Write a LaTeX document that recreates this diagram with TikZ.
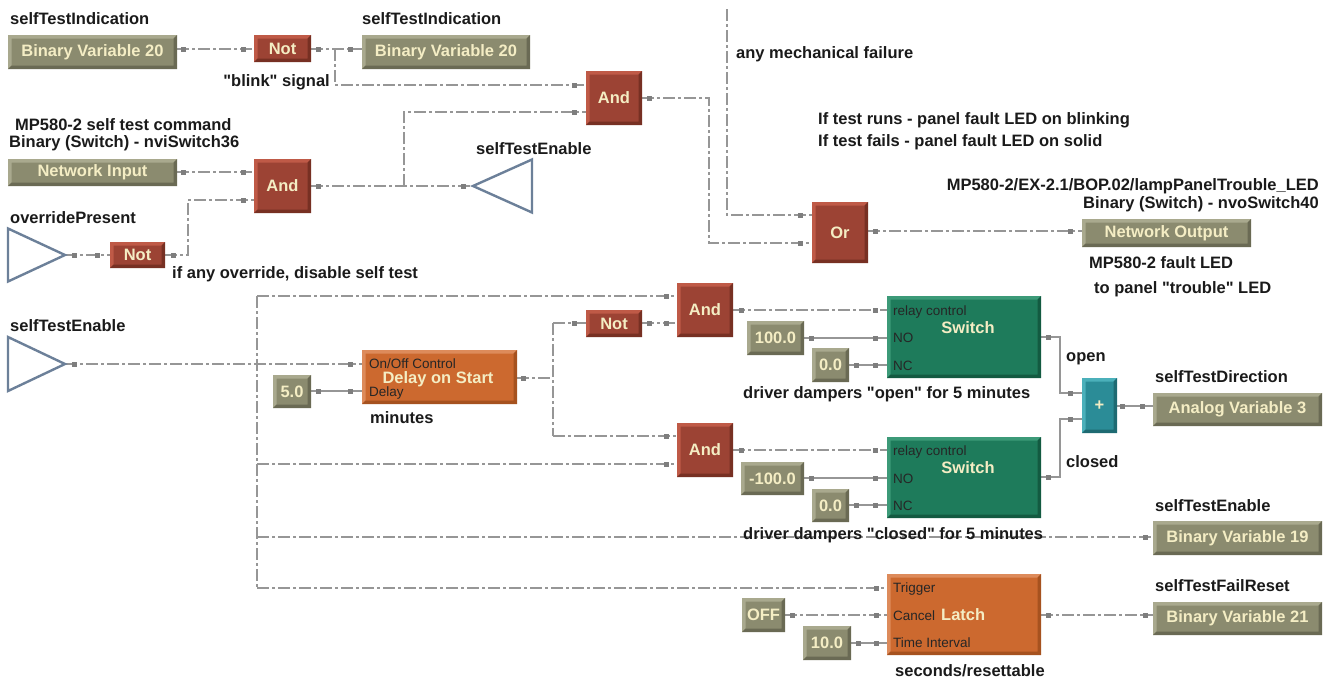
\documentclass[tikz,border=0pt]{standalone}
\usepackage{fontspec}
\setmainfont{Liberation Sans}
\usetikzlibrary{calc}
\pgfdeclarelayer{bg}
\pgfsetlayers{bg,main}
\definecolor{lgray}{HTML}{969696}
\definecolor{pgray}{HTML}{7E7E7E}
\definecolor{olv}{HTML}{8B8B6F}
\definecolor{olvL}{HTML}{A9A98E}
\definecolor{olvD}{HTML}{6A6A54}
\definecolor{rd}{HTML}{9C4334}
\definecolor{rdL}{HTML}{BF5A47}
\definecolor{rdD}{HTML}{773023}
\definecolor{org}{HTML}{CC692F}
\definecolor{orgL}{HTML}{DD8B5B}
\definecolor{orgD}{HTML}{A6521F}
\definecolor{grn}{HTML}{1E7B5B}
\definecolor{grnL}{HTML}{3C9A78}
\definecolor{grnD}{HTML}{135A41}
\definecolor{tl}{HTML}{2B8C97}
\definecolor{tlL}{HTML}{4BB0BA}
\definecolor{tlD}{HTML}{1E6A72}
\definecolor{cream}{HTML}{F4EDC4}
\definecolor{trc}{HTML}{6C8099}
\definecolor{ink}{HTML}{1A1A1A}
\newcommand\labf{\bfseries\fontsize{16.5}{19}\selectfont}
\newcommand\smf{\fontsize{13.5}{15}\selectfont}
\newcommand\dq{\textquotedbl}
\tikzset{
  bev/.style n args={3}{rectangle, inner sep=0pt, fill=#1, text=cream, font=\labf,
    path picture={
      \fill[#2] (path picture bounding box.north west) -- (path picture bounding box.north east)
        -- ([shift={(-3.5pt,-3.5pt)}]path picture bounding box.north east)
        -- ([shift={(3.5pt,-3.5pt)}]path picture bounding box.north west)
        -- ([shift={(3.5pt,3.5pt)}]path picture bounding box.south west)
        -- (path picture bounding box.south west) -- cycle;
      \fill[#3] (path picture bounding box.south east) -- (path picture bounding box.north east)
        -- ([shift={(-3.5pt,-3.5pt)}]path picture bounding box.north east)
        -- ([shift={(-3.5pt,3.5pt)}]path picture bounding box.south east)
        -- ([shift={(3.5pt,3.5pt)}]path picture bounding box.south west)
        -- (path picture bounding box.south west) -- cycle;
    }},
  ob/.style={bev={olv}{olvL}{olvD}},
  rb/.style={bev={rd}{rdL}{rdD}},
  orb/.style={bev={org}{orgL}{orgD}},
  gb/.style={bev={grn}{grnL}{grnD}},
  tb/.style={bev={tl}{tlL}{tlD}},
  sz/.style 2 args={minimum width=#1pt, minimum height=#2pt},
  port/.style={rectangle, fill=pgray, minimum size=5pt, inner sep=0pt},
  dd/.style={draw=lgray, line width=1.5pt, dash pattern=on 12pt off 3pt on 3pt off 3pt},
  sl/.style={draw=lgray, line width=1.5pt},
  txt/.style={inner sep=0pt, anchor=base west, font=\labf, text=ink},
  sm/.style={inner sep=0pt, anchor=base west, font=\smf, text=black!85},
  ttl/.style={inner sep=0pt, anchor=base, font=\labf, text=cream},
  tri/.style={draw=trc, line width=2.4pt, line join=miter, fill=white},
}
\begin{document}
\begin{tikzpicture}[x=1pt,y=-1pt]
\useasboundingbox (0,0) rectangle (1328,681);
\begin{pgfonlayer}{bg}
\fill[white] (0,0) rectangle (1328,681);
\end{pgfonlayer}

% ---------- blocks ----------
\node[ob, sz={169}{34}] (bv20a) at (92.5,52) {Binary Variable 20};
\node[rb, sz={57}{27}] (not1) at (282.5,48.5) {Not};
\node[ob, sz={168}{34}] (bv20b) at (446,52) {Binary Variable 20};
\node[rb, sz={56}{54}] (and1) at (614,98) {And};
\node[rb, sz={56}{61}] (or1) at (840,232.5) {Or};
\node[ob, sz={169}{28}] (nout) at (1166.5,233) {Network Output};
\node[ob, sz={169}{27}] (nin) at (92.5,172.5) {Network Input};
\node[rb, sz={57}{54}] (and2) at (282.5,186) {And};
\node[rb, sz={55}{26}] (not2) at (137.5,255) {Not};
\node[orb, sz={155}{54}] (dly) at (439.5,377) {};
\node[ob, sz={38}{33}] (c5) at (292,391.5) {5.0};
\node[rb, sz={56}{27}] (not3) at (614,323.5) {Not};
\node[rb, sz={56}{54}] (and3) at (705,310) {And};
\node[rb, sz={56}{54}] (and4) at (705,450) {And};
\node[gb, sz={154}{82}] (sw1) at (964,337) {};
\node[ob, sz={57}{34}] (c100) at (775.5,338) {100.0};
\node[ob, sz={37}{34}] (c0a) at (830.5,365) {0.0};
\node[tb, sz={35}{55}] (plus) at (1099.5,405.5) {+};
\node[ob, sz={169}{33}] (av3) at (1237.5,409.5) {Analog Variable 3};
\node[gb, sz={154}{81}] (sw2) at (964,477.5) {};
\node[ob, sz={63}{33}] (cm100) at (772.5,478.5) {-100.0};
\node[ob, sz={37}{33}] (c0b) at (830.5,505.5) {0.0};
\node[ob, sz={169}{34}] (bv19) at (1237.5,538) {Binary Variable 19};
\node[orb, sz={154}{81}] (latch) at (964,614.5) {};
\node[ob, sz={43}{34}] (off) at (763.5,615) {OFF};
\node[ob, sz={48}{34}] (c10) at (827,643) {10.0};
\node[ob, sz={169}{33}] (bv21) at (1237.5,618.5) {Binary Variable 21};

% triangles (tip coordinates)
\coordinate (ovr) at (65,255);
\draw[tri] (ovr) -- ++(-57,-26.5) -- ++(0,53) -- cycle;
\coordinate (ste1) at (473,186);
\draw[tri] (ste1) -- ++(59,-26.5) -- ++(0,53) -- cycle;
\coordinate (ste0) at (65,364);
\draw[tri] (ste0) -- ++(-57,-27) -- ++(0,54) -- cycle;

% inner labels
\node[sm] (dlyon) at (369,368.5) {On/Off Control};
\node[sm] (dlyd) at (369,396) {Delay};
\node[ttl] (dlyt) at (438,383) {Delay on Start};
\node[sm] (s1rc) at (893,315) {relay control};
\node[ttl] (s1t) at (968,333) {Switch};
\node[sm] (s1no) at (893,342.5) {NO};
\node[sm] (s1nc) at (893,370) {NC};
\node[sm] (s2rc) at (893,455.5) {relay control};
\node[ttl] (s2t) at (968,473.5) {Switch};
\node[sm] (s2no) at (893,483) {NO};
\node[sm] (s2nc) at (893,510.5) {NC};
\node[sm] (ltr) at (893,592.5) {Trigger};
\node[sm] (lca) at (893,620) {Cancel};
\node[ttl, anchor=base west] (ltt) at (941,620) {Latch};
\node[sm] (lti) at (893,647.5) {Time Interval};

% ---------- ports ----------
\foreach \n/\x/\y in {pa1/183/49, pa2/243/49, pa3/318/49, pa4/350/49, pa5/574/85, pa6/649/98,
  pa7/800/243, pa8/800/215, pa9/875/231, pa10/1070/231,
  pb1/183/172, pb2/243/172, pb3/243/200, pb4/173/255, pb5/74/255, pb6/97/255, pb7/318/186,
  pb8/463/186, pb9/574/112,
  pc1/74/364, pc2/350/364, pc3/318/391, pc4/350/391, pc5/523/378, pc6/574/323, pc7/649/323,
  pc8/666/323, pc9/666/296, pc10/741/310, pc11/875/310, pc12/811/338, pc13/875/338,
  pc14/856/365, pc15/875/365, pc16/666/436, pc17/666/464, pc18/741/450, pc19/875/450,
  pc20/811/478, pc21/875/478, pc22/856/505, pc23/875/505,
  pd1/1048/337, pd2/1070/393, pd3/1048/477, pd4/1070/419, pd5/1122/406, pd6/1142/406,
  pd7/1145/537, pd8/876/588, pd9/792/615, pd10/876/615, pd11/858/643, pd12/876/643,
  pd13/1048/615, pd14/1145/615}
  {\node[port] (\n) at (\x,\y) {};}

% junction coordinates
\coordinate (j1) at (335,49);
\coordinate (j2) at (404,186);
\coordinate (k1) at (709,98);
\coordinate (k2) at (709,243);
\coordinate (m0) at (727,9);
\coordinate (k3) at (188,255);
\coordinate (k4) at (188,200);
\coordinate (t1) at (257,296);
\coordinate (t2) at (257,588);
\coordinate (t3) at (257,464);
\coordinate (t4) at (257,537);
\coordinate (k5) at (553,378);
\coordinate (k6) at (553,323);
\coordinate (k7) at (553,436);
\coordinate (s1) at (1060,337);
\coordinate (s2) at (1060,393);
\coordinate (s3) at (1060,477);
\coordinate (s4) at (1060,419);

% ---------- connectors ----------
\begin{pgfonlayer}{bg}
\draw[dd] (bv20a.east |- pa1) -- (not1.west |- pa2);
\draw[dd] (not1.east |- pa3) -- (bv20b.west |- pa4);
\draw[dd] (j1) |- (and1.west |- pa5);
\draw[dd] (and1.east |- pa6) -- (k1) -- (k2) -- (or1.west |- pa7);
\draw[dd] (m0) |- (or1.west |- pa8);
\draw[dd] (or1.east |- pa9) -- (nout.west |- pa10);
\draw[dd] (nin.east |- pb1) -- (and2.west |- pb2);
\draw[dd] (not2.east |- pb4) -- (k3) -- (k4) -- (and2.west |- pb3);
\draw[dd] (ovr) -- (not2.west |- pb6);
\draw[dd] (and2.east |- pb7) -- (ste1);
\draw[dd] (j2) |- (and1.west |- pb9);
\draw[dd] (ste0) -- (dly.west |- pc2);
\draw[dd] (t1) -- (t2);
\draw[dd] (t1) -- (and3.west |- pc9);
\draw[dd] (t3) -- (and4.west |- pc17);
\draw[dd] (t4) -- (bv19.west |- pd7);
\draw[dd] (t2) -- (latch.west |- pd8);
\draw[sl] (c5.east |- pc3) -- (dly.west |- pc4);
\draw[dd] (dly.east |- pc5) -- (k5);
\draw[dd] (k6) -- (k7);
\draw[dd] (k6) -- (not3.west |- pc6);
\draw[dd] (k7) -- (and4.west |- pc16);
\draw[dd] (not3.east |- pc7) -- (and3.west |- pc8);
\draw[dd] (and3.east |- pc10) -- (sw1.west |- pc11);
\draw[sl] (c100.east |- pc12) -- (sw1.west |- pc13);
\draw[sl] (c0a.east |- pc14) -- (sw1.west |- pc15);
\draw[dd] (and4.east |- pc18) -- (sw2.west |- pc19);
\draw[sl] (cm100.east |- pc20) -- (sw2.west |- pc21);
\draw[sl] (c0b.east |- pc22) -- (sw2.west |- pc23);
\draw[sl] (sw1.east |- pd1) -- (s1) -- (s2) -- (plus.west |- pd2);
\draw[sl] (sw2.east |- pd3) -- (s3) -- (s4) -- (plus.west |- pd4);
\draw[sl] (plus.east |- pd5) -- (av3.west |- pd6);
\draw[dd] (off.east |- pd9) -- (latch.west |- pd10);
\draw[sl] (c10.east |- pd11) -- (latch.west |- pd12);
\draw[dd] (latch.east |- pd13) -- (bv21.west |- pd14);
\end{pgfonlayer}

% ---------- free labels ----------
\node[txt] (l1) at (10,24) {selfTestIndication};
\node[txt] (l2) at (362,24) {selfTestIndication};
\node[txt, anchor=base east] (l3) at (330,86) {\dq blink\dq{} signal};
\node[txt] (l4) at (736,58) {any mechanical failure};
\node[txt] (l5) at (818,124) {If test runs - panel fault LED on blinking};
\node[txt] (l6) at (818,146) {If test fails - panel fault LED on solid};
\node[txt, anchor=base east] (l7) at (1319,190) {MP580-2/EX-2.1/BOP.02/lampPanelTrouble\_LED};
\node[txt, anchor=base east] (l8) at (1319,208) {Binary (Switch) - nvoSwitch40};
\node[txt] (l9) at (1089,268) {MP580-2 fault LED};
\node[txt] (l10) at (1094,293) {to panel \dq trouble\dq{} LED};
\node[txt] (l11) at (15,130) {MP580-2 self test command};
\node[txt] (l12) at (9,147) {Binary (Switch) - nviSwitch36};
\node[txt] (l13) at (476,154) {selfTestEnable};
\node[txt] (l14) at (10,223) {overridePresent};
\node[txt] (l15) at (172,278) {if any override, disable self test};
\node[txt] (l16) at (10,331) {selfTestEnable};
\node[txt] (l17) at (370,423) {minutes};
\node[txt] (l18) at (743,398) {driver dampers \dq open\dq{} for 5 minutes};
\node[txt] (l19) at (1066,361) {open};
\node[txt] (l20) at (1066,467) {closed};
\node[txt] (l21) at (1155,382) {selfTestDirection};
\node[txt] (l22) at (743,539) {driver dampers \dq closed\dq{} for 5 minutes};
\node[txt] (l23) at (1155,511) {selfTestEnable};
\node[txt] (l24) at (1155,591) {selfTestFailReset};
\node[txt] (l25) at (895,676) {seconds/resettable};
\end{tikzpicture}
\end{document}
